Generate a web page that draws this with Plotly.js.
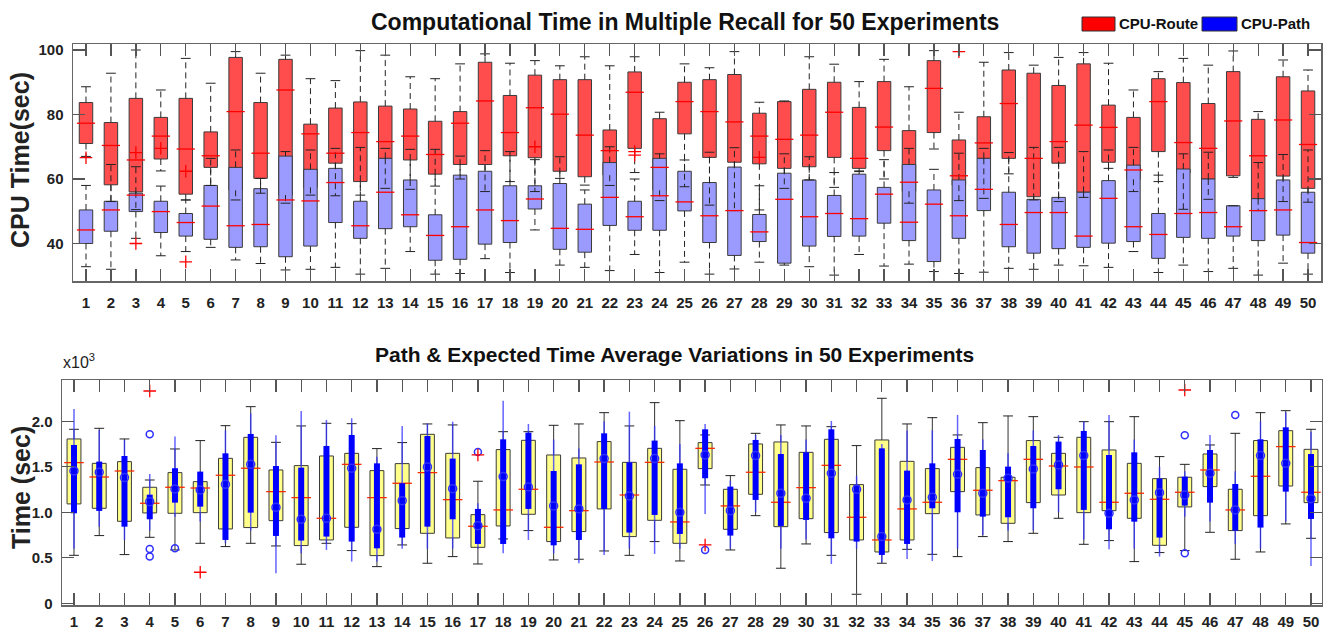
<!DOCTYPE html>
<html>
<head>
<meta charset="utf-8">
<script src="https://cdn.plot.ly/plotly-3.0.1.min.js"></script>
<style>html,body{margin:0;padding:0;background:#fff;}#chart{width:1323px;height:629px;}</style>
</head>
<body>
<div id="chart"></div>
<script>
// ---------- data ----------
const cats = [1,2,3,4,5,6,7,8,9,10,11,12,13,14,15,16,17,18,19,20,21,22,23,24,25,26,27,28,29,30,31,32,33,34,35,36,37,38,39,40,41,42,43,44,45,46,47,48,49,50];

// Top chart: CPU-Route (red)
const routeUpper = [88.6,92.8,100,87.6,97.4,89.7,99.5,92.8,98.4,91.1,90.5,99.8,98.4,91.7,91.1,95.7,98.8,95.9,96.7,95.1,97.9,95.1,97.9,80.7,95.7,94.5,99.5,83.8,84.2,97.9,95.6,90.2,97.1,88.6,99.8,80.7,96.2,99.2,95.3,97.7,99.2,95.9,87.6,93.3,97.4,95.3,99.7,80.9,96.9,93.8];
const routeQ3 = [83.7,77.5,85.0,79.1,85.0,74.6,97.7,83.7,97.1,77.0,82.0,83.9,82.6,81.7,77.9,80.9,96.2,85.9,92.2,90.8,90.8,75.2,93.2,78.7,90.0,90.8,92.4,80.4,84.0,87.8,90.0,82.2,90.2,75.0,96.7,72.1,79.3,93.8,92.8,89.0,95.7,82.9,79.1,91.1,89.9,83.4,93.3,78.5,91.7,87.3];
const routeMedian = [77.3,70.4,65.9,73.3,69.3,67.2,80.9,68.0,87.6,74.0,68.0,74.4,71.6,73.3,67.6,77.3,84.2,74.4,82.1,80.1,73.6,68.8,86.9,63.6,84.0,80.9,77.7,73.3,72.3,73.6,80.7,66.4,76.1,59.0,88.1,61.0,71.2,83.4,66.4,71.6,76.7,76.0,62.8,84.0,71.3,69.5,78.0,67.2,78.3,70.7];
const routeQ1 = [71.0,58.2,56.0,66.2,55.3,63.6,56.5,60.2,55.0,57.4,64.9,59.2,66.4,65.9,61.5,64.5,64.5,67.2,66.6,62.4,60.7,61.2,69.5,56.5,74.0,66.7,65.2,64.7,63.3,63.8,66.7,63.3,68.8,56.2,74.4,58.1,66.4,66.4,54.5,64.9,55.9,65.2,59.9,68.5,61.8,60.0,61.0,53.9,60.9,57.1];
const routeLower = [67,53,50.5,62.5,53.5,58,53.5,55.6,52.5,55,54.8,55,57.1,56.8,57.8,60,56.1,59.2,56.1,60.2,58.1,58,62,53.3,57.6,51.9,50.2,50.4,57.1,59.7,57.4,62.3,60,52.5,69.3,53.3,54.0,61.6,53.5,53.0,54.3,63.3,56.1,59.2,50.6,53.7,60.5,50.2,53.0,52.8];

// Top chart: CPU-Path (blue)
const pathUpper = [58.0,64.5,63.8,57.8,53.5,66.4,69.0,60.2,68.5,69.0,69.5,69.8,69.5,69.2,69.2,67.1,68.8,68.5,66.0,66.9,56.6,70.0,60.0,67.8,65.9,68.3,69.7,57.9,67.8,66.9,62.0,62.5,66.0,69.5,63.0,68.0,69.5,68.2,69.8,69.8,68.5,69.0,69.8,61.2,67.8,68.3,51.7,65.1,67.6,69.0];
const pathQ3 = [50.4,53.1,55.6,53.1,49.3,58.0,63.6,57.0,67.1,63.0,63.3,53.1,66.4,59.7,48.9,61.2,62.4,57.9,57.9,58.6,52.2,65.1,53.1,66.4,62.4,58.9,63.7,49.0,61.8,59.7,54.9,61.5,57.4,64.5,56.6,59.7,66.4,55.9,53.7,54.3,55.9,59.5,64.3,49.3,63.1,60.0,51.7,53.9,59.7,55.9];
const pathMedian = [44.2,50.4,55.0,49.9,46.5,51.6,45.5,45.9,53.5,53.2,58.9,45.5,55.9,48.9,42.5,45.2,50.4,47.1,53.8,44.7,44.4,54.3,48.3,54.8,52.9,48.6,50.2,43.6,53.7,48.3,49.3,47.7,55.3,46.6,52.2,48.6,56.8,45.9,49.6,49.6,42.3,54.0,45.2,42.8,49.3,49.6,45.2,50.2,50.4,40.3];
const pathQ1 = [40.0,43.8,49.9,43.4,42.3,41.3,38.8,39.0,35.9,39.2,46.5,41.6,44.6,45.2,34.8,35.1,39.8,40.3,50.7,38.2,37.3,45.6,44.1,44.1,50.1,40.3,36.3,40.6,33.9,39.2,42.2,42.3,46.3,40.9,34.4,41.6,50.2,39.0,37.0,38.4,38.8,40.1,40.6,35.4,41.9,41.6,42.3,40.9,42.6,37.0];
const pathLower = [32.8,32.0,41.6,36.2,37.5,38.8,34.9,33.8,31.8,32.0,32.6,30.5,32.3,37.5,30.5,30.7,35.3,31.0,44.2,33.3,32.6,31.6,36.6,31.0,34.2,30.5,32.1,34.2,33.3,32.8,30.2,36.6,33.0,33.6,31.3,30.7,31.1,32.3,32.0,33.3,33.1,32.6,37.5,31.0,33.3,31.3,32.3,30.2,33.9,30.5];

// Top chart outliers (red +)
const topOutlierX = [1,3,3,4,5,5,19,23,23,28,36];
const topOutlierY = [66.6,68.2,40.0,69.5,62.4,34.3,70.0,68.5,67.4,66.7,99.5];

// Bottom chart (x10^3 sec)
const timeUpper = [1.912,1.923,1.806,1.355,1.696,1.788,1.952,2.161,1.769,1.949,1.978,1.974,1.70,1.766,1.971,1.96,1.341,1.886,1.886,1.956,1.971,2.095,1.949,2.205,2.007,1.85,1.403,1.868,1.96,1.949,1.941,1.733,2.253,1.971,2.04,1.85,1.985,2.059,2.051,1.824,1.996,1.996,2.051,1.612,1.527,1.74,1.868,2.095,2.117,1.912];
const timeQ3 = [1.806,1.538,1.557,1.275,1.436,1.337,1.593,1.824,1.465,1.513,1.619,1.648,1.458,1.535,1.857,1.648,0.974,1.689,1.791,1.63,1.597,1.777,1.549,1.703,1.473,1.766,1.253,1.751,1.773,1.659,1.802,1.304,1.795,1.56,1.48,1.714,1.491,1.385,1.788,1.648,1.824,1.685,1.538,1.37,1.385,1.641,1.253,1.788,1.897,1.692];
const timeMedian = [1.546,1.388,1.454,1.099,1.275,1.267,1.407,1.484,1.227,1.161,0.934,1.527,1.161,1.319,1.436,1.139,0.846,1.026,1.253,0.835,1.018,1.553,1.19,1.549,0.894,1.703,1.07,1.44,1.11,1.271,1.516,0.945,0.696,1.037,1.11,1.582,1.242,1.348,1.582,1.509,1.498,1.11,1.209,1.143,1.22,1.465,1.026,1.396,1.722,1.22];
const timeQ1 = [1.092,1.044,0.901,0.993,0.989,0.996,0.817,0.832,0.908,0.634,0.696,0.835,0.524,0.821,0.769,0.718,0.615,0.85,0.978,0.678,0.788,1.037,0.733,0.912,0.659,1.48,0.813,1.198,0.842,0.93,0.777,0.696,0.564,0.696,0.985,1.227,0.971,0.879,1.106,1.19,0.996,1.018,0.934,0.637,1.059,1.282,0.799,0.963,1.289,1.106];
const timeLower = [0.527,0.744,0.535,0.725,0.586,0.659,0.623,0.659,0.630,0.429,0.659,0.579,0.403,0.641,0.44,0.513,0.432,0.707,0.799,0.476,0.484,0.575,0.527,0.678,0.465,1.30,0.586,0.963,0.385,0.652,0.527,0.099,0.44,0.593,0.538,0.513,0.733,0.678,0.769,0.934,0.648,0.689,0.458,0.557,0.579,0.78,0.484,0.564,0.872,0.714];
const avgMean = [1.454,1.44,1.381,1.117,1.256,1.245,1.308,1.527,1.055,0.923,0.934,1.484,0.813,1.128,1.498,1.26,0.853,1.392,1.278,1.07,1.037,1.59,1.179,1.59,1.0,1.63,1.018,1.623,1.209,1.154,1.429,1.253,0.733,1.136,1.165,1.418,1.209,1.374,1.476,1.52,1.623,0.989,1.136,1.216,1.19,1.429,1.026,1.623,1.538,1.15];
const avgBandHigh = [1.74,1.557,1.619,1.194,1.484,1.447,1.648,1.861,1.509,1.491,1.729,1.85,1.538,1.319,1.839,1.59,1.037,1.802,1.875,1.454,1.527,1.868,1.549,1.788,1.538,1.912,1.282,1.795,1.641,1.659,1.912,1.3,1.703,1.458,1.538,1.806,1.685,1.502,1.729,1.777,1.894,1.63,1.659,1.37,1.392,1.685,1.311,1.802,1.934,1.641];
const avgBandLow = [0.989,1.015,0.842,0.923,1.106,1.062,0.696,0.996,0.740,0.689,0.733,0.678,0.604,0.722,0.842,0.923,0.652,0.652,1.037,0.637,0.696,1.037,0.777,0.971,0.762,1.374,0.744,1.136,0.85,0.916,0.714,0.678,0.531,0.652,1.044,1.0,0.952,0.945,1.044,1.253,1.026,0.813,0.897,0.722,1.073,1.106,0.799,0.832,1.227,0.927];
const avgRangeHigh = [2.135,1.905,1.795,1.421,1.832,1.447,1.90,2.088,1.846,2.114,2.015,2.033,1.61,1.949,1.978,1.996,1.1,2.227,1.971,1.80,1.70,2.0,2.106,1.95,1.75,1.971,1.35,1.85,1.85,1.8,2.004,1.4,1.75,1.9,1.9,2.07,1.8,1.65,1.9,1.85,2.0,2.07,1.8,1.5,1.45,1.85,1.45,2.0,2.1,1.886];
const avgRangeLow = [0.6,0.842,0.696,0.8,0.95,0.9,0.66,0.8,0.33,0.55,0.586,0.458,0.458,0.6,0.6,0.6,0.6,0.549,0.696,0.55,0.44,0.531,0.6,0.542,0.6,0.982,0.6,1.0,0.6,0.7,0.432,0.6,0.45,0.487,0.465,0.6,0.75,0.8,0.8,1.0,0.7,0.593,0.6,0.513,0.95,0.9,0.65,0.6,0.9,0.41];
const botPlusX = [4,6,17,26,45];
const botPlusY = [2.333,0.341,1.63,0.641,2.344];
const botCircleX = [4,4,4,5,17,26,45,45,47];
const botCircleY = [1.857,0.597,0.513,0.604,1.663,0.586,1.846,0.549,2.07];

const topTitle = 'Computational Time in Multiple Recall for 50 Experiments';
const bottomTitle = 'Path &amp; Expected Time Average Variations in 50 Experiments';

// ---------- helpers ----------
function segs(x, a, b) {
  const X = [], Y = [];
  for (let i = 0; i < x.length; i++) { X.push(x[i], x[i], null); Y.push(a[i], b[i], null); }
  return {X, Y};
}
function diff(hi, lo) { return hi.map((v, i) => v - lo[i]); }

const FONT = 'Liberation Sans, Arial, Helvetica, sans-serif';
const traces = [];
const BLUE = '#3030ff';

// ---- top ----
traces.push({type:'bar', x:cats, base:routeQ1, y:diff(routeQ3, routeQ1), width:0.54, xaxis:'x', yaxis:'y',
  marker:{color:'#ff4d4d', line:{color:'#3a3a3a', width:1}}, showlegend:false});
traces.push({type:'bar', x:cats, base:pathQ1, y:diff(pathQ3, pathQ1), width:0.54, xaxis:'x', yaxis:'y',
  marker:{color:'#9b9bff', line:{color:'#3a3a3a', width:1}}, showlegend:false});
[[routeQ3, routeUpper],[routeQ1, routeLower],[pathQ3, pathUpper],[pathQ1, pathLower]].forEach(p => {
  const s = segs(cats, p[0], p[1]);
  traces.push({type:'scatter', mode:'lines', x:s.X, y:s.Y, xaxis:'x', yaxis:'y', connectgaps:false,
    line:{color:'#222', width:1, dash:'6px,4px'}, showlegend:false});
});
[routeUpper, routeLower, pathUpper, pathLower].forEach(arr => {
  traces.push({type:'scatter', mode:'markers', x:cats, y:arr, xaxis:'x', yaxis:'y',
    marker:{symbol:'line-ew', size:7, color:'#222', line:{color:'#222', width:1}}, showlegend:false});
});
[routeMedian, pathMedian].forEach(arr => {
  traces.push({type:'scatter', mode:'markers', x:cats, y:arr, xaxis:'x', yaxis:'y',
    marker:{symbol:'line-ew', size:13, color:'#ff0000', line:{color:'#ff0000', width:1.3}}, showlegend:false});
});
traces.push({type:'scatter', mode:'markers', x:topOutlierX, y:topOutlierY, xaxis:'x', yaxis:'y',
  marker:{symbol:'cross-thin', size:9, color:'#ff0000', line:{color:'#ff0000', width:1.3}}, showlegend:false});

// ---- bottom ----
traces.push({type:'bar', x:cats, base:timeQ1, y:diff(timeQ3, timeQ1), width:0.55, xaxis:'x2', yaxis:'y2',
  marker:{color:'#ffff8a', line:{color:'#3a3a3a', width:1}}, showlegend:false});
[[timeQ3, timeUpper],[timeQ1, timeLower]].forEach(p => {
  const s = segs(cats, p[0], p[1]);
  traces.push({type:'scatter', mode:'lines', x:s.X, y:s.Y, xaxis:'x2', yaxis:'y2',
    line:{color:'#333', width:1}, showlegend:false});
});
[timeUpper, timeLower].forEach(arr => {
  traces.push({type:'scatter', mode:'markers', x:cats, y:arr, xaxis:'x2', yaxis:'y2',
    marker:{symbol:'line-ew', size:7, color:'#222', line:{color:'#222', width:1}}, showlegend:false});
});
traces.push({type:'scatter', mode:'markers', x:cats, y:timeMedian, xaxis:'x2', yaxis:'y2',
  marker:{symbol:'line-ew', size:14, color:'#ff2a00', line:{color:'#ff2a00', width:1.3}}, showlegend:false});
(function(){
  const s = segs(cats, avgRangeLow, avgRangeHigh);
  traces.push({type:'scatter', mode:'lines', x:s.X, y:s.Y, xaxis:'x2', yaxis:'y2',
    line:{color:'rgba(50,50,255,0.75)', width:1.5}, showlegend:false});
  const t = segs(cats, avgBandLow, avgBandHigh);
  traces.push({type:'scatter', mode:'lines', x:t.X, y:t.Y, xaxis:'x2', yaxis:'y2',
    line:{color:'#0000ff', width:6}, showlegend:false});
})();
traces.push({type:'scatter', mode:'markers', x:cats, y:avgMean, xaxis:'x2', yaxis:'y2',
  marker:{symbol:'circle-open', size:8, color:BLUE, line:{color:BLUE, width:1.5}}, showlegend:false});
traces.push({type:'scatter', mode:'markers', x:botCircleX, y:botCircleY, xaxis:'x2', yaxis:'y2',
  marker:{symbol:'circle-open', size:7, color:BLUE, line:{color:BLUE, width:1.5}}, showlegend:false});
traces.push({type:'scatter', mode:'markers', x:botPlusX, y:botPlusY, xaxis:'x2', yaxis:'y2',
  marker:{symbol:'cross-thin', size:9, color:'#ff0000', line:{color:'#ff0000', width:1.3}}, showlegend:false});

// ---------- layout ----------
const W = 1323, H = 629;
const px = v => v / W, py = v => 1 - v / H;
const tickFont = {family:FONT, size:15, weight:700, color:'#222'};
const axisCommon = {showline:true, linecolor:'#666', linewidth:1.5, mirror:'ticks', ticks:'inside',
  ticklen:12, tickcolor:'#555', tickwidth:1.3, showgrid:false, zeroline:false, tickfont:tickFont, fixedrange:true};

const layout = {
  width:W, height:H, margin:{l:0, r:0, t:0, b:0}, paper_bgcolor:'#fff', plot_bgcolor:'#fff',
  barmode:'overlay', hovermode:false, showlegend:false,
  xaxis: Object.assign({}, axisCommon, {domain:[px(73), px(1321)], range:[0.479, 50.52], tickvals:cats, ticklabelstandoff:7, anchor:'y'}),
  yaxis: Object.assign({}, axisCommon, {domain:[py(281), py(44)], range:[28.37, 101.86], tickvals:[40,60,80,100], ticklabelstandoff:5, anchor:'x'}),
  xaxis2: Object.assign({}, axisCommon, {domain:[px(62), px(1322)], range:[0.525, 50.436], tickvals:cats, ticklabelstandoff:2, anchor:'y2'}),
  yaxis2: Object.assign({}, axisCommon, {domain:[py(605), py(380)], range:[-0.019, 2.454], tickvals:[0,0.5,1,1.5,2], ticktext:['0','0.5','1.0','1.5','2.0'], ticklabelstandoff:5, anchor:'x2'}),
  annotations: [
    {xref:'paper', yref:'paper', x:px(685), y:py(22), xanchor:'center', yanchor:'middle', showarrow:false,
     text:topTitle, font:{family:FONT, size:23, weight:700, color:'#111'}},
    {xref:'paper', yref:'paper', x:px(674), y:py(354), xanchor:'center', yanchor:'middle', showarrow:false,
     text:bottomTitle, font:{family:FONT, size:21, weight:700, color:'#111'}},
    {xref:'paper', yref:'paper', x:px(20), y:py(160), xanchor:'center', yanchor:'middle', showarrow:false, textangle:-90,
     text:'CPU Time(sec)', font:{family:FONT, size:25, weight:700, color:'#222'}},
    {xref:'paper', yref:'paper', x:px(21), y:py(488), xanchor:'center', yanchor:'middle', showarrow:false, textangle:-90,
     text:'Time (sec)', font:{family:FONT, size:25, weight:700, color:'#222'}},
    {xref:'paper', yref:'paper', x:px(61), y:py(361), xanchor:'left', yanchor:'middle', showarrow:false,
     text:'x10<sup>3</sup>', font:{family:FONT, size:16, color:'#222'}},
    {xref:'paper', yref:'paper', x:px(1117), y:py(24), xanchor:'left', yanchor:'middle', showarrow:false,
     text:'CPU-Route', font:{family:FONT, size:15, weight:700, color:'#111'}},
    {xref:'paper', yref:'paper', x:px(1239), y:py(24), xanchor:'left', yanchor:'middle', showarrow:false,
     text:'CPU-Path', font:{family:FONT, size:15, weight:700, color:'#111'}}
  ],
  shapes: [
    {type:'rect', xref:'paper', yref:'paper', x0:px(1082), x1:px(1115), y0:py(31), y1:py(17), fillcolor:'#ff0000', line:{color:'#333', width:1}},
    {type:'rect', xref:'paper', yref:'paper', x0:px(1202), x1:px(1237), y0:py(31), y1:py(17), fillcolor:'#0000ff', line:{color:'#333', width:1}}
  ]
};

Plotly.newPlot('chart', traces, layout, {displayModeBar:false, staticPlot:true});
</script>
</body>
</html>
